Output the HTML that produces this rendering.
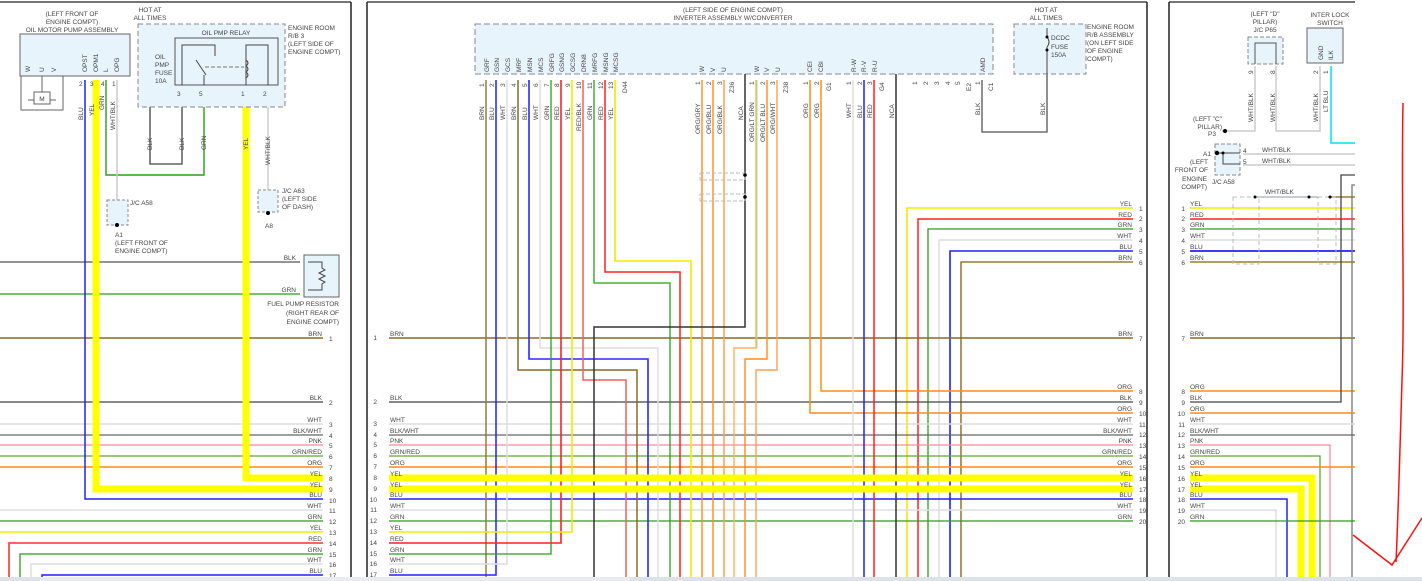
<!DOCTYPE html>
<html><head><meta charset="utf-8"><style>
html,body{margin:0;padding:0;background:#fff;}
svg{display:block;}
text{font-family:"Liberation Sans",sans-serif;font-size:6.5px;fill:#444;}
.t{font-size:6.5px}
</style></head><body>
<svg width="1422" height="581" viewBox="0 0 1422 581" xmlns="http://www.w3.org/2000/svg">
<rect width="1422" height="581" fill="#fff"/>
<!-- panel borders -->
<line x1="0" y1="2" x2="351" y2="2" stroke="#222" stroke-width="1.2"/>
<line x1="351" y1="2" x2="351" y2="581" stroke="#222" stroke-width="1.5"/>
<line x1="367" y1="2" x2="1147" y2="2" stroke="#222" stroke-width="1.2"/>
<line x1="367" y1="2" x2="367" y2="581" stroke="#222" stroke-width="1.5"/>
<line x1="1147" y1="2" x2="1147" y2="581" stroke="#222" stroke-width="1.5"/>
<line x1="1169" y1="2" x2="1355" y2="2" stroke="#222" stroke-width="1.2"/>
<line x1="1169" y1="2" x2="1169" y2="581" stroke="#222" stroke-width="1.5"/>

<!-- ================= LEFT PANEL ================= -->
<g fill="none">
<!-- horizontal rows -->
<line x1="0" y1="262" x2="300" y2="262" stroke="#555" stroke-width="1.3"/>
<line x1="0" y1="294" x2="300" y2="294" stroke="#2a9d1a" stroke-width="1.3"/>
<line x1="0" y1="338" x2="323" y2="338" stroke="#8b6a20" stroke-width="1.5"/>
<line x1="0" y1="402" x2="323" y2="402" stroke="#444" stroke-width="1.3"/>
<line x1="0" y1="424" x2="323" y2="424" stroke="#ddd" stroke-width="1.5"/>
<line x1="0" y1="435" x2="323" y2="435" stroke="#666" stroke-width="1.3"/>
<line x1="0" y1="445" x2="323" y2="445" stroke="#ff8899" stroke-width="1.3"/>
<line x1="0" y1="456" x2="323" y2="456" stroke="#5aaa30" stroke-width="1.3"/>
<line x1="0" y1="467" x2="323" y2="467" stroke="#ff8c1a" stroke-width="1.5"/>
<line x1="0" y1="510" x2="323" y2="510" stroke="#ddd" stroke-width="1.5"/>
<line x1="0" y1="521" x2="323" y2="521" stroke="#2a9d1a" stroke-width="1.3"/>
<line x1="0" y1="532" x2="323" y2="532" stroke="#f2ea00" stroke-width="1.5"/>
<polyline points="9,581 9,543 323,543" stroke="#ff3030" stroke-width="1.6"/>
<polyline points="20,581 20,554 323,554" stroke="#2a9d1a" stroke-width="1.3"/>
<polyline points="31,581 31,564 323,564" stroke="#ddd" stroke-width="1.5"/>
<polyline points="42,581 42,575 323,575" stroke="#2020ff" stroke-width="1.5"/>
<!-- blu, yel from pump -->
<polyline points="85,80 85,499 323,499" stroke="#2020ff" stroke-width="1.5"/>
<polyline points="96,80 96,489 323,489" stroke="#ffff00" stroke-width="7"/>
<polyline points="246,107 246,478 323,478" stroke="#ffff00" stroke-width="7"/>
<polyline points="106,80 106,175 204,175 204,107" stroke="#2a9d1a" stroke-width="1.4"/>
<line x1="117" y1="80" x2="117" y2="225" stroke="#ccc" stroke-width="1.5"/>
<polyline points="150,30 150,164 182,164 182,107" stroke="#444" stroke-width="1.3"/>
<line x1="268" y1="107" x2="268" y2="212" stroke="#ccc" stroke-width="1.5"/>
</g>
<!-- left row labels -->
<g text-anchor="end">
<text x="322" y="336">BRN</text><text x="322" y="400">BLK</text><text x="322" y="422">WHT</text><text x="322" y="433">BLK/WHT</text><text x="322" y="443">PNK</text><text x="322" y="454">GRN/RED</text><text x="322" y="465">ORG</text><text x="322" y="476">YEL</text><text x="322" y="487">YEL</text><text x="322" y="497">BLU</text><text x="322" y="508">WHT</text><text x="322" y="519">GRN</text><text x="322" y="530">YEL</text><text x="322" y="541">RED</text><text x="322" y="552">GRN</text><text x="322" y="562">WHT</text><text x="322" y="573">BLU</text>
<text x="296" y="260">BLK</text><text x="296" y="292">GRN</text>
</g>
<g>
<text x="329" y="341">1</text><text x="329" y="405">2</text><text x="329" y="427">3</text><text x="329" y="438">4</text><text x="329" y="448">5</text><text x="329" y="459">6</text><text x="329" y="470">7</text><text x="329" y="481">8</text><text x="329" y="492">9</text><text x="329" y="503">10</text><text x="329" y="513">11</text><text x="329" y="524">12</text><text x="329" y="535">13</text><text x="329" y="546">14</text><text x="329" y="557">15</text><text x="329" y="567">16</text><text x="329" y="578">17</text>
</g>
<!-- oil motor pump -->
<g text-anchor="middle"><text x="72" y="16">(LEFT FRONT OF</text><text x="72" y="24">ENGINE COMPT)</text><text x="72" y="32">OIL MOTOR PUMP ASSEMBLY</text></g>
<rect x="20" y="34" width="110" height="42" fill="#e8f4fc" stroke="#666"/>
<path d="M21,76 V110 H63 V76 M42,76 V92 M28,100 H56" fill="none" stroke="#666"/>
<rect x="34" y="92" width="16" height="12" fill="#fff" stroke="#666"/><text x="42" y="101" text-anchor="middle">M</text>
<g transform="rotate(-90)"><text x="-72" y="30">W</text><text x="-72" y="44">U</text><text x="-72" y="56">V</text>
<text x="-72" y="87">OPST</text><text x="-72" y="98">OPM1</text><text x="-72" y="108">L</text><text x="-72" y="119">OPG</text>
<text x="-120" y="83">BLU</text><text x="-116" y="94">YEL</text><text x="-110" y="104">GRN</text><text x="-130" y="115">WHT/BLK</text>
<text x="-150" y="152">BLK</text><text x="-150" y="184">BLK</text><text x="-150" y="206">GRN</text><text x="-150" y="248">YEL</text><text x="-165" y="270">WHT/BLK</text>
</g>
<!-- relay box -->
<g text-anchor="middle"><text x="150" y="12">HOT AT</text><text x="150" y="20">ALL TIMES</text></g>
<rect x="138" y="24" width="147" height="83" fill="#e8f4fc" stroke="#888" stroke-dasharray="5,3"/>
<rect x="175" y="38" width="103" height="47" fill="none" stroke="#555"/>
<text x="226" y="35" text-anchor="middle">OIL PMP RELAY</text>
<text x="155" y="59">OIL</text><text x="155" y="67">PMP</text><text x="155" y="75">FUSE</text><text x="155" y="83">10A</text>
<path d="M182,85 V45 H215 V56 M196,60 L206,75 M204,75 V85 M246,85 V45 H268 V85 M246,60 q4,3 0,6 q4,3 0,6 q4,3 0,6" fill="none" stroke="#444"/>
<line x1="205" y1="67" x2="244" y2="67" stroke="#777" stroke-dasharray="4,2"/>
<text x="288" y="30">ENGINE ROOM</text><text x="288" y="38">R/B 3</text><text x="288" y="46">(LEFT SIDE OF</text><text x="288" y="54">ENGINE COMPT)</text>
<g><text x="177" y="96">3</text><text x="199" y="96">5</text><text x="241" y="96">1</text><text x="263" y="96">2</text><text x="79" y="86">2</text><text x="90" y="86">3</text><text x="101" y="86">4</text><text x="112" y="86">1</text></g>
<!-- J/C A58 -->
<rect x="107" y="200" width="21" height="25" fill="#e8f4fc" stroke="#888" stroke-dasharray="3,2"/>
<circle cx="117" cy="225" r="2" fill="#000"/>
<text x="130" y="205">J/C A58</text><text x="115" y="237">A1</text><text x="115" y="245">(LEFT FRONT OF</text><text x="115" y="253">ENGINE COMPT)</text>
<!-- J/C A63 -->
<rect x="258" y="190" width="20" height="22" fill="#e8f4fc" stroke="#888" stroke-dasharray="3,2"/>
<circle cx="268" cy="213" r="2" fill="#000"/>
<text x="282" y="193">J/C A63</text><text x="282" y="201">(LEFT SIDE</text><text x="282" y="209">OF DASH)</text><text x="265" y="228">A8</text>
<!-- fuel pump resistor -->
<rect x="304" y="255" width="35" height="42" fill="#e8f4fc" stroke="#666"/>
<path d="M308,262 H322 V268 l3,2 -6,3 6,3 -6,3 6,3 -3,2 V290 H308" fill="none" stroke="#444"/>
<g text-anchor="end"><text x="339" y="306">FUEL PUMP RESISTOR</text><text x="339" y="315">(RIGHT REAR OF</text><text x="339" y="324">ENGINE COMPT)</text></g>

<!-- ================= MIDDLE PANEL ================= -->
<g text-anchor="middle"><text x="733" y="12">(LEFT SIDE OF ENGINE COMPT)</text><text x="733" y="20">INVERTER ASSEMBLY W/CONVERTER</text></g>
<rect x="475" y="24" width="518" height="50" fill="#e8f4fc" stroke="#888" stroke-dasharray="6,3"/>
<g fill="none">
<!-- right rows -->
<polyline points="907,581 907,208 1133,208" stroke="#f2ea00" stroke-width="1.6"/>
<polyline points="918,581 918,219 1133,219" stroke="#ff2020" stroke-width="1.5"/>
<polyline points="928,581 928,229 1133,229" stroke="#2a9d1a" stroke-width="1.3"/>
<polyline points="939,581 939,240 1133,240" stroke="#ddd" stroke-width="1.5"/>
<polyline points="950,581 950,251 1133,251" stroke="#2020ff" stroke-width="1.6"/>
<polyline points="961,581 961,262 1133,262" stroke="#9a7b3a" stroke-width="1.6"/>
<!-- left/right rows -->
<line x1="389" y1="338" x2="1133" y2="338" stroke="#8b6a20" stroke-width="1.5"/>
<line x1="389" y1="402" x2="1133" y2="402" stroke="#444" stroke-width="1.3"/>
<line x1="389" y1="424" x2="1133" y2="424" stroke="#ddd" stroke-width="1.5"/>
<line x1="389" y1="435" x2="1133" y2="435" stroke="#666" stroke-width="1.3"/>
<line x1="389" y1="445" x2="1133" y2="445" stroke="#ff8899" stroke-width="1.3"/>
<line x1="389" y1="456" x2="1133" y2="456" stroke="#5aaa30" stroke-width="1.3"/>
<line x1="389" y1="467" x2="1133" y2="467" stroke="#ff8c1a" stroke-width="1.5"/>
<line x1="389" y1="499" x2="1133" y2="499" stroke="#2020ff" stroke-width="1.5"/>
<line x1="389" y1="510" x2="1133" y2="510" stroke="#ddd" stroke-width="1.5"/>
<line x1="389" y1="521" x2="1133" y2="521" stroke="#2a9d1a" stroke-width="1.3"/>
<polyline points="821,80 821,391 1133,391" stroke="#ff8c1a" stroke-width="1.5"/>
<polyline points="810,80 810,413 1133,413" stroke="#ff8c1a" stroke-width="1.5"/>
<!-- inverter left pins -->
<line x1="486" y1="80" x2="486" y2="581" stroke="#9a7b3a" stroke-width="1.5"/>
<polyline points="496,80 496,575 389,575" stroke="#2020ff" stroke-width="1.5"/>
<polyline points="507,80 507,564 389,564" stroke="#ddd" stroke-width="1.5"/>
<polyline points="518,80 518,370 637,370 637,581" stroke="#8b6a20" stroke-width="1.5"/>
<polyline points="529,80 529,359 648,359 648,581" stroke="#2a2aff" stroke-width="1.6"/>
<polyline points="540,80 540,348 658,348 658,581" stroke="#ddd" stroke-width="1.5"/>
<polyline points="551,80 551,554 389,554" stroke="#2a9d1a" stroke-width="1.3"/>
<polyline points="561,80 561,543 389,543" stroke="#ff2020" stroke-width="1.6"/>
<polyline points="572,80 572,532 389,532" stroke="#f2ea00" stroke-width="1.6"/>
<polyline points="583,80 583,380 626,380 626,581" stroke="#f06060" stroke-width="1.5"/>
<polyline points="594,80 594,283 670,283 670,581" stroke="#2a9d1a" stroke-width="1.3"/>
<polyline points="605,80 605,272 680,272 680,581" stroke="#ff2020" stroke-width="1.5"/>
<polyline points="615,80 615,261 691,261 691,581" stroke="#f2ea00" stroke-width="1.6"/>
<!-- Z36 -->
<line x1="702" y1="80" x2="702" y2="581" stroke="#ff8c1a" stroke-width="1.4"/>
<line x1="713" y1="80" x2="713" y2="581" stroke="#ff8c1a" stroke-width="1.4"/>
<line x1="724" y1="80" x2="724" y2="581" stroke="#ff9a40" stroke-width="1.4"/>
<polyline points="745,74 745,327 594,327 594,581" stroke="#333" stroke-width="1.5"/>
<polyline points="756,80 756,348 734,348 734,581" stroke="#ffb060" stroke-width="1.4"/>
<line x1="757" y1="80" x2="757" y2="348" stroke="#90e070" stroke-width="0.8"/>
<polyline points="767,80 767,359 745,359 745,581" stroke="#ff8c1a" stroke-width="1.4"/>
<polyline points="777,80 777,370 756,370 756,581" stroke="#ffa050" stroke-width="1.4"/>
<!-- G4 -->
<line x1="853" y1="80" x2="853" y2="581" stroke="#ddd" stroke-width="1.5"/>
<line x1="864" y1="80" x2="864" y2="581" stroke="#2020ff" stroke-width="1.5"/>
<line x1="874" y1="80" x2="874" y2="581" stroke="#ff2020" stroke-width="1.5"/>
<line x1="896" y1="74" x2="896" y2="581" stroke="#333" stroke-width="1.5"/>
<!-- AMD -->
<polyline points="982,80 982,132 1047,132 1047,74" stroke="#555" stroke-width="1.3"/>
</g>
<!-- thick yellow rows across -->
<line x1="389" y1="478" x2="1133" y2="478" stroke="#ffff00" stroke-width="7"/>
<line x1="389" y1="489" x2="1133" y2="489" stroke="#ffff00" stroke-width="7"/>
<!-- shields -->
<rect x="700" y="173" width="45" height="7" fill="none" stroke="#bbb" stroke-dasharray="4,2"/>
<rect x="700" y="194" width="45" height="7" fill="none" stroke="#bbb" stroke-dasharray="4,2"/>
<circle cx="745" cy="175" r="1.8" fill="#000"/><circle cx="745" cy="197" r="1.8" fill="#000"/>
<!-- middle labels -->
<g text-anchor="start"><text x="390" y="336">BRN</text><text x="390" y="400">BLK</text><text x="390" y="422">WHT</text><text x="390" y="433">BLK/WHT</text><text x="390" y="443">PNK</text><text x="390" y="454">GRN/RED</text><text x="390" y="465">ORG</text><text x="390" y="476">YEL</text><text x="390" y="487">YEL</text><text x="390" y="497">BLU</text><text x="390" y="508">WHT</text><text x="390" y="519">GRN</text><text x="390" y="530">YEL</text><text x="390" y="541">RED</text><text x="390" y="552">GRN</text><text x="390" y="562">WHT</text><text x="390" y="573">BLU</text></g>
<g text-anchor="end"><text x="377" y="340">1</text><text x="377" y="404">2</text><text x="377" y="426">3</text><text x="377" y="437">4</text><text x="377" y="447">5</text><text x="377" y="458">6</text><text x="377" y="469">7</text><text x="377" y="480">8</text><text x="377" y="491">9</text><text x="377" y="502">10</text><text x="377" y="512">11</text><text x="377" y="523">12</text><text x="377" y="534">13</text><text x="377" y="545">14</text><text x="377" y="556">15</text><text x="377" y="566">16</text><text x="377" y="577">17</text>
<text x="1132" y="206">YEL</text><text x="1132" y="217">RED</text><text x="1132" y="227">GRN</text><text x="1132" y="238">WHT</text><text x="1132" y="249">BLU</text><text x="1132" y="260">BRN</text>
<text x="1132" y="336">BRN</text><text x="1132" y="389">ORG</text><text x="1132" y="400">BLK</text><text x="1132" y="411">ORG</text><text x="1132" y="422">WHT</text><text x="1132" y="433">BLK/WHT</text><text x="1132" y="443">PNK</text><text x="1132" y="454">GRN/RED</text><text x="1132" y="465">ORG</text><text x="1132" y="476">YEL</text><text x="1132" y="487">YEL</text><text x="1132" y="497">BLU</text><text x="1132" y="508">WHT</text><text x="1132" y="519">GRN</text></g>
<g><text x="1139" y="211">1</text><text x="1139" y="221">2</text><text x="1139" y="232">3</text><text x="1139" y="243">4</text><text x="1139" y="254">5</text><text x="1139" y="265">6</text><text x="1139" y="341">7</text><text x="1139" y="394">8</text><text x="1139" y="405">9</text><text x="1139" y="416">10</text><text x="1139" y="427">11</text><text x="1139" y="437">12</text><text x="1139" y="448">13</text><text x="1139" y="459">14</text><text x="1139" y="470">15</text><text x="1139" y="481">16</text><text x="1139" y="492">17</text><text x="1139" y="502">18</text><text x="1139" y="513">19</text><text x="1139" y="524">20</text></g>
<!-- rotated pin names & wire labels -->
<g transform="rotate(-90)">
<text x="-72" y="489">GRF</text><text x="-72" y="499">GSN</text><text x="-72" y="510">GCS</text><text x="-72" y="521">MRF</text><text x="-72" y="532">MSN</text><text x="-72" y="543">MCS</text><text x="-72" y="554">GRFG</text><text x="-72" y="564">GSNG</text><text x="-72" y="575">GCSG</text><text x="-72" y="586">DRN8</text><text x="-72" y="597">MRFG</text><text x="-72" y="608">MSNG</text><text x="-72" y="618">MCSG</text>
<text x="-72" y="704">W</text><text x="-72" y="715">V</text><text x="-72" y="726">U</text><text x="-72" y="759">W</text><text x="-72" y="769">V</text><text x="-72" y="780">U</text>
<text x="-72" y="812">CEI</text><text x="-72" y="823">CBI</text><text x="-72" y="856">R-W</text><text x="-72" y="866">R-V</text><text x="-72" y="877">R-U</text><text x="-72" y="985">AMD</text>
<text x="-87" y="484">1</text><text x="-87" y="494">2</text><text x="-87" y="505">3</text><text x="-87" y="516">4</text><text x="-87" y="527">5</text><text x="-87" y="538">6</text><text x="-87" y="549">7</text><text x="-87" y="559">8</text><text x="-87" y="570">9</text><text x="-89" y="581">10</text><text x="-89" y="592">11</text><text x="-89" y="603">12</text><text x="-89" y="613">13</text><text x="-93" y="627">D44</text>
<text x="-85" y="700">1</text><text x="-85" y="711">2</text><text x="-85" y="722">3</text><text x="-93" y="734">Z36</text>
<text x="-85" y="754">1</text><text x="-85" y="765">2</text><text x="-85" y="775">3</text><text x="-93" y="788">Z38</text>
<text x="-85" y="808">1</text><text x="-85" y="819">2</text><text x="-91" y="831">G1</text>
<text x="-85" y="851">1</text><text x="-85" y="862">2</text><text x="-85" y="872">3</text><text x="-91" y="884">G4</text>
<text x="-85" y="917">1</text><text x="-85" y="928">2</text><text x="-85" y="939">3</text><text x="-85" y="950">4</text><text x="-85" y="960">5</text><text x="-91" y="971">E2</text><text x="-85" y="980">1</text><text x="-91" y="993">C1</text>
<text x="-120" y="484">BRN</text><text x="-120" y="494">BLU</text><text x="-120" y="505">WHT</text><text x="-120" y="516">BRN</text><text x="-120" y="527">BLU</text><text x="-120" y="538">WHT</text><text x="-120" y="549">GRN</text><text x="-120" y="559">RED</text><text x="-120" y="570">YEL</text><text x="-131" y="581">RED/BLK</text><text x="-120" y="592">GRN</text><text x="-120" y="603">RED</text><text x="-120" y="613">YEL</text>
<text x="-134" y="700">ORG/GRY</text><text x="-134" y="711">ORG/BLU</text><text x="-134" y="722">ORG/BLK</text><text x="-120" y="743">NCA</text><text x="-142" y="754">ORG/LT GRN</text><text x="-142" y="765">ORG/LT BLU</text><text x="-134" y="775">ORG/WHT</text>
<text x="-118" y="808">ORG</text><text x="-118" y="819">ORG</text><text x="-118" y="851">WHT</text><text x="-118" y="862">BLU</text><text x="-118" y="872">RED</text><text x="-118" y="894">NCA</text><text x="-115" y="980">BLK</text><text x="-115" y="1045">BLK</text>
</g>
<!-- DCDC -->
<g text-anchor="middle"><text x="1046" y="12">HOT AT</text><text x="1046" y="20">ALL TIMES</text></g>
<rect x="1014" y="24" width="72" height="50" fill="#e8f4fc" stroke="#888" stroke-dasharray="5,3"/>
<path d="M1047,37 q4,5 0,10 M1047,28 V37 M1047,47 V74" fill="none" stroke="#444"/>
<circle cx="1047" cy="37" r="1.5" fill="#000"/><circle cx="1047" cy="50" r="1.5" fill="#000"/>
<text x="1051" y="40">DCDC</text><text x="1051" y="49">FUSE</text><text x="1051" y="57">150A</text>
<text x="1087" y="29">ENGINE ROOM</text><text x="1087" y="37">R/B ASSEMBLY</text><text x="1087" y="45">(ON LEFT SIDE</text><text x="1087" y="53">OF ENGINE</text><text x="1087" y="61">COMPT)</text>

<!-- ================= RIGHT PANEL ================= -->
<g text-anchor="middle"><text x="1265" y="16">(LEFT "D"</text><text x="1265" y="24">PILLAR)</text><text x="1265" y="32">J/C P65</text><text x="1330" y="17">INTER LOCK</text><text x="1330" y="25">SWITCH</text></g>
<rect x="1248" y="37" width="35" height="27" fill="#e8f4fc" stroke="#888" stroke-dasharray="4,2"/>
<path d="M1255,64 V43 H1276 V64" fill="none" stroke="#555"/>
<rect x="1307" y="28" width="36" height="35" fill="#e8f4fc" stroke="#666"/>
<g transform="rotate(-90)"><text x="-60" y="1323">GND</text><text x="-60" y="1333">ILK</text><text x="-74" y="1253">9</text><text x="-74" y="1275">8</text><text x="-74" y="1318">2</text><text x="-74" y="1328">1</text>
<text x="-122" y="1253">WHT/BLK</text><text x="-122" y="1275">WHT/BLK</text><text x="-122" y="1318">WHT/BLK</text><text x="-112" y="1328">LT BLU</text></g>
<g fill="none">
<polyline points="1255,66 1255,131 1222,131" stroke="#ccc" stroke-width="1.5"/>
<polyline points="1276,66 1276,131 1320,131 1320,66" stroke="#ccc" stroke-width="1.5"/>
<polyline points="1331,66 1331,143 1355,143" stroke="#00e0f0" stroke-width="1.5"/>
<line x1="1243" y1="154" x2="1355" y2="154" stroke="#ccc" stroke-width="1.5"/>
<line x1="1243" y1="165" x2="1355" y2="165" stroke="#ccc" stroke-width="1.5"/>
<line x1="1190" y1="208" x2="1355" y2="208" stroke="#f2ea00" stroke-width="1.6"/>
<line x1="1190" y1="219" x2="1355" y2="219" stroke="#ff2020" stroke-width="1.5"/>
<line x1="1190" y1="229" x2="1355" y2="229" stroke="#2a9d1a" stroke-width="1.3"/>
<line x1="1190" y1="240" x2="1355" y2="240" stroke="#ddd" stroke-width="1.5"/>
<line x1="1190" y1="251" x2="1355" y2="251" stroke="#2020ff" stroke-width="1.8"/>
<line x1="1190" y1="262" x2="1355" y2="262" stroke="#9a7b3a" stroke-width="1.6"/>
<line x1="1330" y1="197" x2="1355" y2="197" stroke="#9a7b3a" stroke-width="1.6"/>
<line x1="1190" y1="338" x2="1355" y2="338" stroke="#8b6a20" stroke-width="1.5"/>
<line x1="1190" y1="391" x2="1355" y2="391" stroke="#ff8c1a" stroke-width="1.5"/>
<polyline points="1190,402 1341,402 1341,175 1355,175" stroke="#444" stroke-width="1.3"/>
<polyline points="1352,581 1352,185 1355,185" stroke="#777" stroke-width="1.3"/>
<line x1="1190" y1="413" x2="1355" y2="413" stroke="#ff8c1a" stroke-width="1.5"/>
<line x1="1190" y1="424" x2="1355" y2="424" stroke="#ddd" stroke-width="1.5"/>
<line x1="1190" y1="435" x2="1355" y2="435" stroke="#666" stroke-width="1.3"/>
<polyline points="1190,445 1330,445 1330,581" stroke="#ff8899" stroke-width="1.3"/>
<polyline points="1190,456 1320,456 1320,581" stroke="#5aaa30" stroke-width="1.3"/>
<line x1="1190" y1="467" x2="1355" y2="467" stroke="#ff8c1a" stroke-width="1.5"/>
<polyline points="1190,478 1312,478 1312,581" stroke="#ffff00" stroke-width="7"/>
<polyline points="1190,489 1301,489 1301,581" stroke="#ffff00" stroke-width="7"/>
<polyline points="1190,499 1287,499 1287,581" stroke="#2020ff" stroke-width="1.5"/>
<polyline points="1190,510 1276,510 1276,581" stroke="#ddd" stroke-width="1.5"/>
<line x1="1190" y1="521" x2="1355" y2="521" stroke="#2a9d1a" stroke-width="1.3"/>
</g>
<rect x="1233" y="197" width="26" height="67" fill="none" stroke="#bbb" stroke-dasharray="4,3"/>
<rect x="1318" y="197" width="18" height="67" fill="none" stroke="#bbb" stroke-dasharray="4,3"/>
<line x1="1255" y1="197" x2="1318" y2="197" stroke="#999"/>
<text x="1265" y="194">WHT/BLK</text>
<circle cx="1255" cy="197" r="1.5" fill="#000"/><circle cx="1309" cy="197" r="1.5" fill="#000"/><circle cx="1330" cy="197" r="1.5" fill="#000"/>
<rect x="1215" y="144" width="25" height="31" fill="#e8f4fc" stroke="#888" stroke-dasharray="4,2"/>
<path d="M1216,153 H1223 V164 H1240 M1223,153 H1240" fill="none" stroke="#444"/>
<circle cx="1217" cy="153" r="2.2" fill="#000"/><circle cx="1223" cy="153" r="1.5" fill="#000"/><circle cx="1225" cy="131" r="2" fill="#000"/>
<text x="1262" y="152">WHT/BLK</text><text x="1262" y="163">WHT/BLK</text><text x="1243" y="153">4</text><text x="1243" y="164">5</text>
<g text-anchor="end"><text x="1222" y="121">(LEFT "C"</text><text x="1222" y="129">PILLAR)</text><text x="1216" y="136">P3</text><text x="1211" y="156">A1</text><text x="1208" y="164">(LEFT</text><text x="1208" y="172">FRONT OF</text><text x="1207" y="181">ENGINE</text><text x="1207" y="189">COMPT)</text></g>
<text x="1212" y="184">J/C A58</text>
<g><text x="1190" y="206">YEL</text><text x="1190" y="217">RED</text><text x="1190" y="227">GRN</text><text x="1190" y="238">WHT</text><text x="1190" y="249">BLU</text><text x="1190" y="260">BRN</text><text x="1190" y="336">BRN</text><text x="1190" y="389">ORG</text><text x="1190" y="400">BLK</text><text x="1190" y="411">ORG</text><text x="1190" y="422">WHT</text><text x="1190" y="433">BLK/WHT</text><text x="1190" y="443">PNK</text><text x="1190" y="454">GRN/RED</text><text x="1190" y="465">ORG</text><text x="1190" y="476">YEL</text><text x="1190" y="487">YEL</text><text x="1190" y="497">BLU</text><text x="1190" y="508">WHT</text><text x="1190" y="519">GRN</text></g>
<g text-anchor="end"><text x="1185" y="211">1</text><text x="1185" y="221">2</text><text x="1185" y="232">3</text><text x="1185" y="243">4</text><text x="1185" y="254">5</text><text x="1185" y="265">6</text><text x="1185" y="341">7</text><text x="1185" y="394">8</text><text x="1185" y="405">9</text><text x="1185" y="416">10</text><text x="1185" y="427">11</text><text x="1185" y="437">12</text><text x="1185" y="448">13</text><text x="1185" y="459">14</text><text x="1185" y="470">15</text><text x="1185" y="481">16</text><text x="1185" y="492">17</text><text x="1185" y="502">18</text><text x="1185" y="513">19</text><text x="1185" y="524">20</text></g>
<!-- red annotation -->
<path d="M1403,103 C1401,200 1405,300 1402,380 C1400,450 1398,520 1396,562" fill="none" stroke="#ff1010" stroke-width="1.5"/>
<path d="M1353,535 L1392,565 L1422,518" fill="none" stroke="#ff1010" stroke-width="1.5"/>
<!-- bottom strip -->
<rect x="0" y="577" width="1422" height="4" fill="#dde2e8"/>
<rect x="40" y="577" width="590" height="4" fill="#e9ecef"/>
</svg>
</body></html>
